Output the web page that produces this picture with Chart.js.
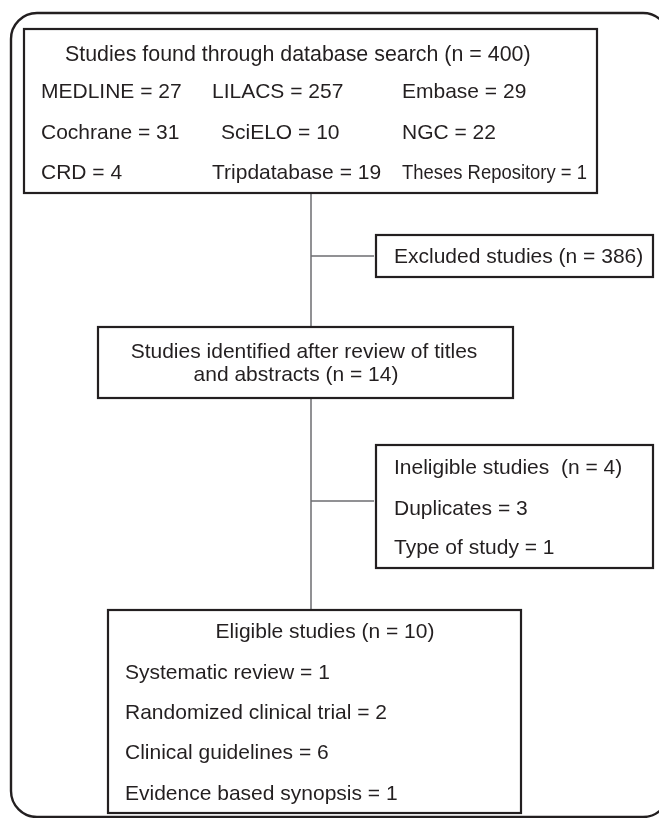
<!DOCTYPE html>
<html><head><meta charset="utf-8">
<script src="https://cdn.jsdelivr.net/npm/chart.js@4.4.1/dist/chart.umd.min.js"></script>
<style>html,body{margin:0;padding:0;background:#fff}canvas{display:block}</style>
</head><body>
<canvas id="c" width="659" height="818"></canvas>
<script>
// ---- data ----
const searchTitle = 'Studies found through database search';
const searchTotal = 400;
const databases = ['MEDLINE', 'LILACS', 'Embase', 'Cochrane', 'SciELO', 'NGC', 'CRD', 'Tripdatabase', 'Theses Repository'];
const databaseCounts = [27, 257, 29, 31, 10, 22, 4, 19, 1];
const excludedLabel = 'Excluded studies';
const excludedTotal = 386;
const screenedLines = ['Studies identified after review of titles', 'and abstracts'];
const screenedTotal = 14;
const ineligibleLabel = 'Ineligible studies';
const ineligibleTotal = 4;
const ineligibleReasons = ['Duplicates', 'Type of study'];
const ineligibleCounts = [3, 1];
const eligibleLabel = 'Eligible studies';
const eligibleTotal = 10;
const eligibleTypes = ['Systematic review', 'Randomized clinical trial', 'Clinical guidelines', 'Evidence based synopsis'];
const eligibleCounts = [1, 2, 6, 1];

// ---- layout (axis units) ----
const LAYOUT = {
  frame: {x0: 11, y0: 13, x1: 669, y1: 817, r: 26},
  boxes: {
    search: [24, 29, 597, 193],
    excluded: [376, 235, 653, 277],
    screened: [98, 327, 513, 398],
    ineligible: [376, 445, 653, 568],
    eligible: [108, 610, 521, 813]
  },
  spine: {x: 311, y0: 193, y1: 610},
  branches: [{y: 256, x1: 374}, {y: 501, x1: 374}],
  searchTitle: {x: 65, y: 61},
  dbX: [41, 212, 402, 41, 221, 402, 41, 212, 402],
  dbY: [98, 98, 98, 139, 139, 139, 179, 179, 179],
  dbMaxW: [0, 0, 0, 0, 0, 0, 0, 0, 185],
  excluded: {x: 394, y: 263},
  screened: [{x: 304, y: 358}, {x: 296, y: 381}],
  ineligible: {x: 394, ys: [474, 515, 554]},
  eligible: {cx: 325, ty: 638, x: 125, ys: [679, 719, 759, 800]}
};
const INK = '#231f20';
const FONT = '21px "Liberation Sans", Arial, Helvetica, sans-serif';
const TITLE_FONT = '21.4px "Liberation Sans", Arial, Helvetica, sans-serif';

const flowPlugin = {
  id: 'flow',
  afterDraw(chart) {
    const ctx = chart.ctx;
    const sx = chart.scales.x, sy = chart.scales.y;
    const X = v => sx.getPixelForValue(v);
    const Y = v => sy.getPixelForValue(v);
    ctx.save();
    // outer rounded frame
    const f = LAYOUT.frame;
    ctx.strokeStyle = INK; ctx.lineWidth = 2.4;
    ctx.beginPath();
    ctx.roundRect(X(f.x0), Y(f.y0), X(f.x1) - X(f.x0), Y(f.y1) - Y(f.y0), f.r);
    ctx.stroke();
    // connectors
    ctx.strokeStyle = '#6d6e71'; ctx.lineWidth = 1.5;
    ctx.beginPath();
    ctx.moveTo(X(LAYOUT.spine.x), Y(LAYOUT.spine.y0));
    ctx.lineTo(X(LAYOUT.spine.x), Y(LAYOUT.spine.y1));
    LAYOUT.branches.forEach(b => {
      ctx.moveTo(X(LAYOUT.spine.x), Y(b.y));
      ctx.lineTo(X(b.x1), Y(b.y));
    });
    ctx.stroke();
    // boxes
    ctx.strokeStyle = INK; ctx.lineWidth = 2.2;
    Object.values(LAYOUT.boxes).forEach(b => {
      ctx.fillStyle = '#fff';
      ctx.fillRect(X(b[0]), Y(b[1]), X(b[2]) - X(b[0]), Y(b[3]) - Y(b[1]));
      ctx.strokeRect(X(b[0]), Y(b[1]), X(b[2]) - X(b[0]), Y(b[3]) - Y(b[1]));
    });
    // text
    ctx.fillStyle = INK; ctx.textBaseline = 'alphabetic';
    const left = (t, x, y, mw) => { ctx.textAlign = 'left'; mw ? ctx.fillText(t, X(x), Y(y), mw) : ctx.fillText(t, X(x), Y(y)); };
    const center = (t, x, y) => { ctx.textAlign = 'center'; ctx.fillText(t, X(x), Y(y)); };
    ctx.font = TITLE_FONT;
    left(searchTitle + ' (n = ' + searchTotal + ')', LAYOUT.searchTitle.x, LAYOUT.searchTitle.y);
    ctx.font = FONT;
    databases.forEach((d, i) => left(d + ' = ' + databaseCounts[i], LAYOUT.dbX[i], LAYOUT.dbY[i], LAYOUT.dbMaxW[i]));
    left(excludedLabel + ' (n = ' + excludedTotal + ')', LAYOUT.excluded.x, LAYOUT.excluded.y);
    center(screenedLines[0], LAYOUT.screened[0].x, LAYOUT.screened[0].y);
    center(screenedLines[1] + ' (n = ' + screenedTotal + ')', LAYOUT.screened[1].x, LAYOUT.screened[1].y);
    left(ineligibleLabel + '  (n = ' + ineligibleTotal + ')', LAYOUT.ineligible.x, LAYOUT.ineligible.ys[0]);
    ineligibleReasons.forEach((r, i) => left(r + ' = ' + ineligibleCounts[i], LAYOUT.ineligible.x, LAYOUT.ineligible.ys[i + 1]));
    center(eligibleLabel + ' (n = ' + eligibleTotal + ')', LAYOUT.eligible.cx, LAYOUT.eligible.ty);
    eligibleTypes.forEach((t, i) => left(t + ' = ' + eligibleCounts[i], LAYOUT.eligible.x, LAYOUT.eligible.ys[i]));
    ctx.restore();
  }
};

new Chart(document.getElementById('c'), {
  type: 'scatter',
  data: {datasets: [{data: [], pointRadius: 0}]},
  options: {
    responsive: false,
    animation: false,
    devicePixelRatio: 1,
    layout: {padding: 0},
    plugins: {legend: {display: false}, tooltip: {enabled: false}},
    scales: {
      x: {type: 'linear', min: 0, max: 659, display: false},
      y: {type: 'linear', min: 0, max: 818, reverse: true, display: false}
    }
  },
  plugins: [flowPlugin]
});
</script>
</body></html>
